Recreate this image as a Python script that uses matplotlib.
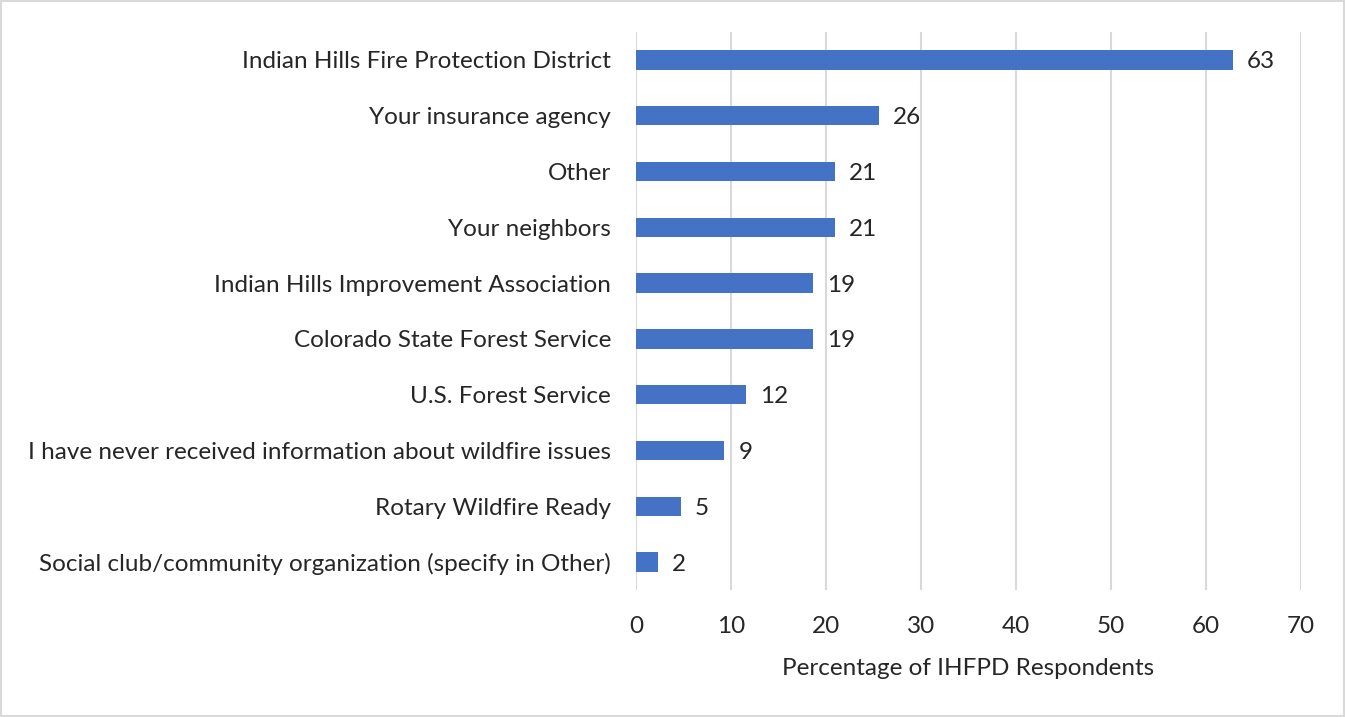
import matplotlib.pyplot as plt
from matplotlib.patches import Rectangle

# dados (percentagens)
categorias = [
    'Indian Hills Fire Protection District',
    'Your insurance agency',
    'Other',
    'Your neighbors',
    'Indian Hills Improvement Association',
    'Colorado State Forest Service',
    'U.S. Forest Service',
    'I have never received information about wildfire issues',
    'Rotary Wildfire Ready',
    'Social club/community organization (specify in Other)',
]
percentagens = [62.8, 25.6, 20.9, 20.9, 18.6, 18.6, 11.6, 9.3, 4.7, 2.3]
ticks_x = [0, 10, 20, 30, 40, 50, 60, 70]

plt.rcParams['font.family'] = ['Lato', 'DejaVu Sans']
COR_TEXTO = '#262626'
COR_GRADE = '#d9d9d9'
TAM = 17.5

fig = plt.figure(figsize=(13.45, 7.17), dpi=100)
ax = fig.add_axes([0.4729, 0.1771, 0.4944, 0.7783])

y = list(range(len(categorias)))
ax.barh(y, percentagens, height=0.35, color='#4472C4', zorder=3)

for yi, v in zip(y, percentagens):
    ax.annotate(f'{v:.0f}', xy=(v, yi), xytext=(10, -1.5), textcoords='offset points',
                ha='left', va='center', fontsize=TAM, color=COR_TEXTO)

ax.set_xlim(0, 70)
ax.set_ylim(-0.5, len(categorias) - 0.5)
ax.invert_yaxis()
ax.set_yticks(y)
ax.set_yticklabels(categorias, fontsize=TAM, color=COR_TEXTO)
ax.set_xticks(ticks_x)
ax.set_xticklabels([str(t) for t in ticks_x], fontsize=TAM, color=COR_TEXTO)
ax.tick_params(axis='both', length=0)
ax.tick_params(axis='y', pad=18)
ax.tick_params(axis='x', pad=19)
ax.set_xlabel('Percentage of IHFPD Respondents', fontsize=TAM, color=COR_TEXTO, labelpad=15)

ax.grid(True, axis='x', color=COR_GRADE, linewidth=1.5, zorder=0)
for lado in ['top', 'right', 'bottom', 'left']:
    ax.spines[lado].set_visible(False)

# moldura à volta da figura
fig.patches.append(Rectangle((0.001, 0.001), 0.998, 0.997, transform=fig.transFigure,
                             fill=False, edgecolor=COR_GRADE, linewidth=1.5))

plt.savefig('out.png', dpi=100)
